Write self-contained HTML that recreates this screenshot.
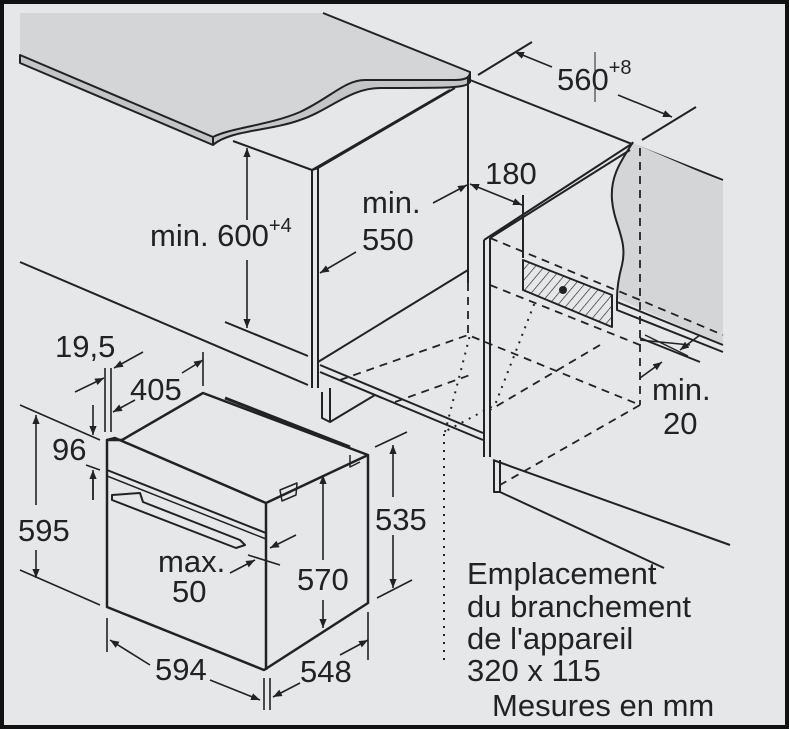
<!DOCTYPE html>
<html><head><meta charset="utf-8"><style>
html,body{margin:0;padding:0;background:#e6e7e8}
svg{display:block}
text{font-family:"Liberation Sans",sans-serif;font-size:31px;fill:#222}
</style></head><body>
<svg width="789" height="729" viewBox="0 0 789 729" xmlns="http://www.w3.org/2000/svg">
<defs>
<marker id="a" viewBox="0 0 10 10" refX="10" refY="5" markerWidth="9" markerHeight="9" orient="auto-start-reverse" markerUnits="userSpaceOnUse"><path d="M0,1 L10,5 L0,9 z" fill="#222"/></marker>
<pattern id="h" width="7" height="7" patternUnits="userSpaceOnUse" patternTransform="rotate(40)"><line x1="0" y1="0" x2="0" y2="7" stroke="#222" stroke-width="1.3"/></pattern>
</defs>
<rect x="2" y="2" width="785" height="725" fill="#e6e7e8" stroke="#111" stroke-width="4"/>
<g stroke="#222" stroke-width="2" fill="none" stroke-linejoin="round">
<path d="M20,13 L323,13 L470,72 L470,82 C462,88 440,88 380,88 C340,88 300,130 235,132 L213,145 L20,63 Z" fill="#d4d5d7" stroke="none"/>
<path d="M323,13 L470,72"/>
<path d="M20,55 L213,137 C230,128 270,125 300,112 C330,98 345,80 365,80 L455,80 C468,80 470,76 470,72 L470,82 C465,88 455,88 380,88 C350,88 330,110 300,120 C270,131 230,130 213,145 L20,63 Z" fill="#c4c5c7"/>
<path d="M213,137 L213,145"/>
<path d="M233,141 L312,170"/>
<path d="M312,170 L312,388 M318,168 L318,388 M312,170 L318,168"/>
<path d="M318,168 L455,88 M312,170 L450,90"/>
<path d="M468,76 L468,283"/>
<path d="M318,362 L468,270"/>
<path d="M322,392 L322,418 L330,422 L330,388 M330,422 L375,395"/>
<path d="M20,262 L308,385"/>
<path d="M225,322 L308,356"/>
<path d="M320,365 L483,433 M320,372 L483,440"/>
<path d="M470,80 L723,180"/>
<path d="M633,143 C622,160 610,175 612,200 C614,225 628,240 622,265 C618,280 617,290 617,298 L723,345 L723,182 L633,143 Z" fill="#d4d5d7" stroke="none"/>
<path d="M633,142 C622,160 610,175 612,200 C614,225 628,240 622,265 C618,280 617,290 617,298"/>
<path d="M617,298 L617,310 L723,352 M617,302 L723,345" />
<path d="M484,240 L484,457 M490,238 L490,457 M484,240 L633,143 M490,238 L630,150"/>
<path d="M494,460 L494,492 L500,492 L500,460 M500,492 L664,568"/>
<path d="M493,460 L730,545"/>
<path d="M523,260 L523,290 L612,327 L612,295 Z" fill="url(#h)"/>
<circle cx="563" cy="290" r="3" fill="#222"/>
<path d="M523,195 L523,258"/>
<path d="M478,75 L532,42 M642,140 L696,107"/>
<path d="M595,52 L595,102" stroke-width="1"/>
<path d="M640,340 L690,345 M645,335 L688,356" stroke-width="1.5"/>
<path d="M640,338 L700,362"/>
</g>
<g stroke="#222" stroke-width="1.8" fill="none" stroke-dasharray="8,6">
<path d="M468,283 L468,335"/>
<path d="M340,380 L468,335 L640,405"/>
<path d="M490,238 L640,300 L723,335"/>
<path d="M490,285 L640,345"/>
<path d="M640,148 L640,405"/>
<path d="M640,405 L500,485"/>
<path d="M600,345 L490,410"/>
<path d="M395,402 L470,375"/>
</g>
<g stroke="#222" stroke-width="2" fill="none" stroke-dasharray="2,6">
<path d="M444,660 L444,432 L495,405 L535,302"/>
<path d="M445,432 L470,335"/>
</g>
<g stroke="#222" stroke-width="1.6" fill="none">
<path d="M247,220 L247,148" marker-end="url(#a)"/><path d="M247,260 L247,328" marker-end="url(#a)"/>
<path d="M433,203 L467,185" marker-end="url(#a)"/><path d="M356,252 L320,273" marker-end="url(#a)"/>
<path d="M470,184 L522,205" marker-start="url(#a)" marker-end="url(#a)"/>
<path d="M552,67 L515,52" marker-end="url(#a)"/><path d="M618,95 L672,117" marker-end="url(#a)"/>
<path d="M700,335 L680,350" marker-end="url(#a)"/><path d="M640,378 L662,362" marker-end="url(#a)"/>
</g>
<text x="150" y="246">min. 600<tspan dy="-14" style="font-size:20px">+4</tspan></text>
<text x="362" y="213">min.</text><text x="362" y="250">550</text>
<text x="485" y="184">180</text>
<text x="557" y="90">560<tspan dy="-16" style="font-size:20px">+8</tspan></text>
<text x="652" y="400">min.</text><text x="663" y="434">20</text>
<text x="467" y="584">Emplacement</text>
<text x="467" y="617">du branchement</text>
<text x="467" y="649">de l'appareil</text>
<text x="467" y="681">320 x 115</text>
<text x="492" y="716">Mesures en mm</text>
<g stroke="#222" stroke-width="2.5" fill="none" stroke-linejoin="round">
<path d="M107,440 L107,607 L264,670 L368,603 L368,455 L203,393 L122,440 Z"/>
<path d="M107,440 L115,438 L266,503 L368,455"/>
<path d="M266,503 L266,670"/>
<path d="M107,470 L266,533" stroke-width="2"/>
<path d="M107,476 L266,539" stroke-width="1.5"/>
<path d="M225,398 L350,447" stroke-width="3"/>
<path d="M112,495 L140,493 L143,502 L240,540 L245,545 L236,548 L112,500 Z" stroke-width="2"/>
<path d="M350,455 L350,467 L360,462" stroke-width="1.5"/>
<path d="M280,490 L297,483 L296,495 L282,501 Z" stroke-width="1.5"/>
</g>
<g stroke="#222" stroke-width="1.6" fill="none">
<path d="M20,405 L100,440 M20,570 L100,605"/>
<path d="M36,505 L36,415" marker-end="url(#a)"/><path d="M36,550 L36,578" marker-end="url(#a)"/>
<path d="M86,465 L100,470 M93,472 L93,500" /><path d="M93,405 L93,435" marker-end="url(#a)"/>
<path d="M93,500 L93,470" marker-end="url(#a)"/>
<path d="M105,368 L105,432 M111,368 L111,432"/>
<path d="M75,392 L104,378" marker-end="url(#a)"/><path d="M143,352 L114,368" marker-end="url(#a)"/>
<path d="M113,412 L135,400" marker-start="url(#a)"/><path d="M182,373 L203,360" marker-end="url(#a)"/>
<path d="M203,352 L203,386"/>
<path d="M107,618 L107,652 M264,678 L264,710 M270,678 L270,710 M368,612 L368,660"/>
<path d="M150,665 L110,640" marker-end="url(#a)"/><path d="M210,680 L260,700" marker-end="url(#a)"/>
<path d="M300,683 L273,697" marker-end="url(#a)"/><path d="M340,655 L368,640" marker-end="url(#a)"/>
<path d="M323,560 L323,475" marker-end="url(#a)"/><path d="M323,600 L323,628" marker-end="url(#a)"/>
<path d="M375,447 L407,432 M377,598 L412,580"/>
<path d="M393,497 L393,445" marker-end="url(#a)"/><path d="M393,535 L393,588" marker-end="url(#a)"/>
<path d="M296,535 L270,548" marker-end="url(#a)"/><path d="M230,573 L255,560" marker-end="url(#a)"/>
<path d="M248,555 L280,565"/>
</g>
<text x="55" y="357">19,5</text>
<text x="130" y="400">405</text>
<text x="52" y="460">96</text>
<text x="18" y="541">595</text>
<text x="158" y="572">max.</text><text x="172" y="602">50</text>
<text x="297" y="590">570</text>
<text x="375" y="530">535</text>
<text x="155" y="680">594</text>
<text x="300" y="682">548</text>
</svg>
</body></html>
